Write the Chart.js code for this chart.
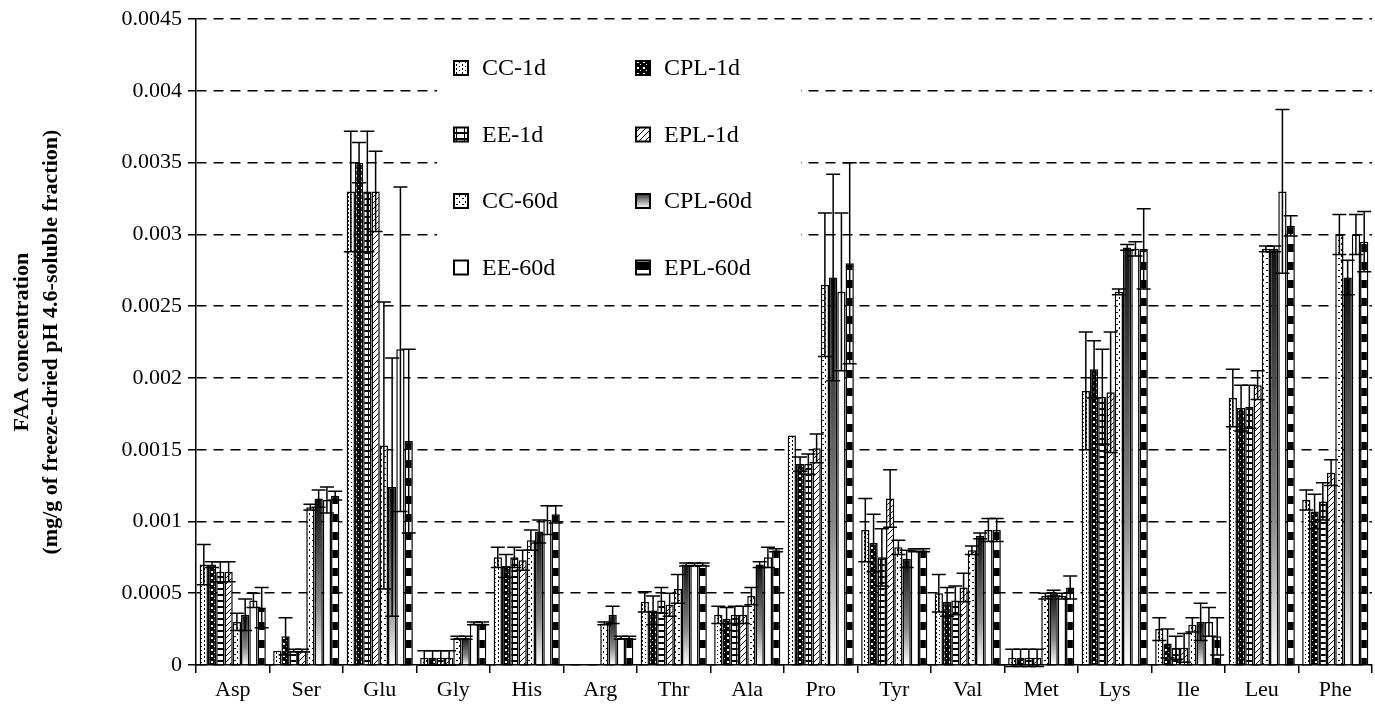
<!DOCTYPE html>
<html>
<head>
<meta charset="utf-8">
<script src="https://cdn.jsdelivr.net/npm/chart.js@4"></script>
<style>
  body { margin: 0; background: #fff; }
  #wrap { width: 1375px; height: 709px; }
</style>
</head>
<body>
<div id="wrap"><canvas id="faaChart" width="1375" height="709"></canvas></div>
<script>
// Kategorie i dane
const categories = ['Asp', 'Ser', 'Glu', 'Gly', 'His', 'Arg', 'Thr', 'Ala', 'Pro', 'Tyr', 'Val', 'Met', 'Lys', 'Ile', 'Leu', 'Phe'];
const seriesNames = ['CC-1d', 'CPL-1d', 'EE-1d', 'EPL-1d', 'CC-60d', 'CPL-60d', 'EE-60d', 'EPL-60d'];
const yTickLabels = ['0', '0.0005', '0.001', '0.0015', '0.002', '0.0025', '0.003', '0.0035', '0.004', '0.0045'];

const cc1d   = [0.0007, 0.0001, 0.0033, 0.00005, 0.00075, 0, 0.00044, 0.00035, 0.0016, 0.00094, 0.0005, 0.00005, 0.00191, 0.00025, 0.00186, 0.00115];
const cpl1d  = [0.0007, 0.0002, 0.0035, 0.00005, 0.00069, 0, 0.00038, 0.00032, 0.0014, 0.00085, 0.00044, 0.00005, 0.00206, 0.00015, 0.00179, 0.00107];
const ee1d   = [0.00065, 0.0001, 0.0033, 0.00005, 0.00075, 0, 0.00045, 0.00035, 0.0014, 0.00075, 0.00045, 0.00005, 0.00187, 0.00012, 0.0018, 0.00114];
const epl1d  = [0.00065, 0.0001, 0.0033, 0.00005, 0.00073, 0, 0.00042, 0.00035, 0.00151, 0.00116, 0.00054, 0.00005, 0.0019, 0.00012, 0.00195, 0.00134];
const cc60d  = [0.0003, 0.0011, 0.00153, 0.00019, 0.00087, 0.00029, 0.00053, 0.00048, 0.00265, 0.00082, 0.0008, 0.00048, 0.0026, 0.00028, 0.0029, 0.003];
const cpl60d = [0.00035, 0.00116, 0.00124, 0.00019, 0.00093, 0.00035, 0.0007, 0.0007, 0.0027, 0.00074, 0.0009, 0.0005, 0.00291, 0.0003, 0.0029, 0.0027];
const ee60d  = [0.00045, 0.00115, 0.0022, 0.00029, 0.00101, 0.00019, 0.0007, 0.00075, 0.0026, 0.0008, 0.00094, 0.00048, 0.0029, 0.0003, 0.0033, 0.003];
const epl60d = [0.0004, 0.00118, 0.00156, 0.00029, 0.00105, 0.00019, 0.0007, 0.0008, 0.0028, 0.0008, 0.00094, 0.00054, 0.0029, 0.0002, 0.00306, 0.00295];

// Odchylenia (słupki błędów)
const cc1dErr   = [0.00014, 0, 0.00042, 0.00005, 0.00007, 0, 0.00007, 0.00006, 0, 0.00022, 0.00013, 0.00006, 0.00041, 0.00008, 0.0002, 0.00007];
const cpl1dErr  = [0.00002, 0.00013, 0.00014, 0.00005, 0.00008, 0, 0.0001, 0.00008, 0.00005, 0.0002, 0.0001, 0.00006, 0.0002, 0.0001, 0.00016, 0.00012];
const ee1dErr   = [0.00007, 0.00001, 0.00042, 0.00005, 0.00007, 0, 0.00009, 0.00006, 0.00007, 0.0002, 0.0001, 0.00006, 0.00033, 0.00008, 0.00015, 0.00013];
const epl1dErr  = [0.00007, 0.00001, 0.00028, 0.00005, 0.00007, 0, 0.00008, 0.00006, 0.0001, 0.0002, 0.0001, 0.00006, 0.00042, 0.0001, 0.0001, 0.00009];
const cc60dErr  = [0.00006, 0.00002, 0.001, 0.00001, 0.00007, 0.00001, 0.0001, 0.00006, 0.0005, 0.00005, 0.00003, 0.00002, 0.00002, 0.00005, 0.00002, 0.00014];
const cpl60dErr = [0.00011, 0.00006, 0.0009, 0.00001, 0.00008, 0.00006, 0.00001, 0.00002, 0.00072, 0.00006, 0.00002, 0.00002, 0.00002, 0.00013, 0.00002, 0.00012];
const ee60dErr  = [0.00005, 0.00009, 0.00113, 0.00001, 0.0001, 0.00001, 0.00001, 0.00007, 0.00055, 0.00001, 0.00008, 0.00002, 0.00005, 0.0001, 0.00057, 0.00014];
const epl60dErr = [0.00014, 0.00003, 0.00064, 0.00001, 0.00006, 0.00001, 0.00001, 0.00001, 0.0007, 0.00001, 0.00008, 0.00008, 0.00028, 0.00013, 0.00007, 0.00021];

// Wzory wypełnienia
function makePattern(w, h, draw) {
    const c = document.createElement('canvas');
    c.width = w;
    c.height = h;
    const g = c.getContext('2d');
    g.fillStyle = '#fff';
    g.fillRect(0, 0, w, h);
    g.fillStyle = '#000';
    draw(g);
    return c.getContext('2d').createPattern(c, 'repeat');
}

const patCC1 = makePattern(6, 4, g => { g.fillRect(0, 0, 1, 2); g.fillRect(3, 2, 1, 1); });
const patCPL1 = makePattern(6, 6, g => {
    g.fillRect(0, 0, 6, 6);
    g.fillStyle = '#fff';
    g.fillRect(1, 1, 2, 2);
    g.fillRect(4, 4, 1, 1);
});
const patEE1 = makePattern(8, 6, g => { g.fillRect(0, 0, 8, 2); g.fillRect(0, 0, 1, 6); });
const patEPL1 = makePattern(6, 6, g => { for (let i = 0; i < 6; i++) g.fillRect(i, 5 - i, 1, 1); });
const patCC60 = makePattern(6, 6, g => { g.fillRect(0, 0, 2, 1); g.fillRect(3, 3, 1, 2); });
const patEPL60 = makePattern(6, 18, g => { g.fillRect(0, 10, 6, 8); });

function cplGradient(context) {
    const chart = context.chart;
    const area = chart.chartArea;
    if (!area || context.type !== 'data') return '#888';
    const y = chart.scales.y;
    const top = y.getPixelForValue(context.raw);
    const bottom = y.getPixelForValue(0);
    const g = chart.ctx.createLinearGradient(0, top, 0, bottom);
    g.addColorStop(0, '#111');
    g.addColorStop(0.65, '#8a8a8a');
    g.addColorStop(1, '#ffffff');
    return g;
}

function legendGradient(ctx, x, y, s) {
    const g = ctx.createLinearGradient(0, y, 0, y + s);
    g.addColorStop(0, '#333');
    g.addColorStop(1, '#fff');
    return g;
}

const seriesValues = [cc1d, cpl1d, ee1d, epl1d, cc60d, cpl60d, ee60d, epl60d];
const seriesErrors = [cc1dErr, cpl1dErr, ee1dErr, epl1dErr, cc60dErr, cpl60dErr, ee60dErr, epl60dErr];
const fills = [patCC1, patCPL1, patEE1, patEPL1, patCC60, cplGradient, '#ffffff', patEPL60];

// Słupki błędów
const errorBars = {
    id: 'errorBars',
    afterDatasetsDraw(chart) {
        const ctx = chart.ctx;
        const y = chart.scales.y;
        ctx.save();
        ctx.strokeStyle = '#000';
        ctx.lineWidth = 1.5;
        chart.data.datasets.forEach((ds, i) => {
            const meta = chart.getDatasetMeta(i);
            meta.data.forEach((bar, j) => {
                const v = ds.data[j];
                const e = seriesErrors[i][j];
                if (!e || !v) return;
                const yt = y.getPixelForValue(v + e);
                const yb = y.getPixelForValue(Math.max(v - e, -0.00004));
                ctx.beginPath();
                ctx.moveTo(bar.x, yt);
                ctx.lineTo(bar.x, yb);
                ctx.moveTo(bar.x - 7, yt);
                ctx.lineTo(bar.x + 7, yt);
                ctx.moveTo(bar.x - 7, yb);
                ctx.lineTo(bar.x + 7, yb);
                ctx.stroke();
            });
        });
        ctx.restore();
    }
};

// Legenda wewnątrz wykresu
const innerLegend = {
    id: 'innerLegend',
    beforeDatasetsDraw(chart) {
        const ctx = chart.ctx;
        ctx.save();
        ctx.fillStyle = '#fff';
        ctx.fillRect(437, 28, 364, 262);
        ctx.font = '24px "Liberation Serif", "Times New Roman", serif';
        ctx.textBaseline = 'middle';
        seriesNames.forEach((name, i) => {
            const col = i % 2;
            const row = Math.floor(i / 2);
            const bx = col === 0 ? 454 : 636;
            const by = 61 + row * 66.5;
            const s = 14;
            let f = fills[i];
            if (typeof f === 'function') f = legendGradient(ctx, bx, by, s);
            ctx.fillStyle = f;
            ctx.fillRect(bx, by, s, s);
            ctx.strokeStyle = '#000';
            ctx.lineWidth = 2;
            ctx.strokeRect(bx, by, s, s);
            ctx.fillStyle = '#000';
            ctx.fillText(name, bx + 28, by + s / 2 + 1);
        });
        ctx.restore();
    }
};

const serif = '"Liberation Serif", "Times New Roman", serif';

new Chart(document.getElementById('faaChart').getContext('2d'), {
    type: 'bar',
    data: {
        labels: categories,
        datasets: seriesNames.map((name, i) => ({
            label: name,
            data: seriesValues[i],
            backgroundColor: fills[i],
            borderColor: '#000',
            borderWidth: 1.5,
            borderSkipped: 'bottom',
            categoryPercentage: 0.9,
            barPercentage: 1.0
        }))
    },
    options: {
        responsive: false,
        animation: false,
        layout: { padding: { left: 4, right: 3, top: 15, bottom: 4 } },
        plugins: {
            legend: { display: false },
            tooltip: { enabled: false }
        },
        scales: {
            x: {
                grid: { drawOnChartArea: false, drawTicks: true, tickLength: 8, color: '#000', lineWidth: 1.5, offset: true },
                border: { display: true, color: '#000', width: 1.5 },
                ticks: { color: '#000', font: { family: serif, size: 22 }, padding: 4, maxRotation: 0 },
                afterFit: s => { s.height = 40; }
            },
            y: {
                min: 0,
                max: 0.0045,
                ticks: {
                    stepSize: 0.0005,
                    color: '#000',
                    font: { family: serif, size: 22 },
                    padding: 6,
                    callback: (v, i) => yTickLabels[i]
                },
                grid: { color: '#000', lineWidth: 1.5, tickLength: 8, tickColor: '#000' },
                border: { display: true, color: '#000', width: 1.5, dash: [10, 7] },
                title: {
                    display: true,
                    text: ['FAA concentration', '(mg/g of freeze-dried pH 4.6-soluble fraction)'],
                    color: '#000',
                    font: { family: serif, size: 22, weight: 'bold', lineHeight: 1.3 },
                    padding: { top: 4, bottom: 0 }
                },
                afterFit: s => { s.width = 192; }
            }
        }
    },
    plugins: [innerLegend, errorBars]
});
</script>
</body>
</html>
